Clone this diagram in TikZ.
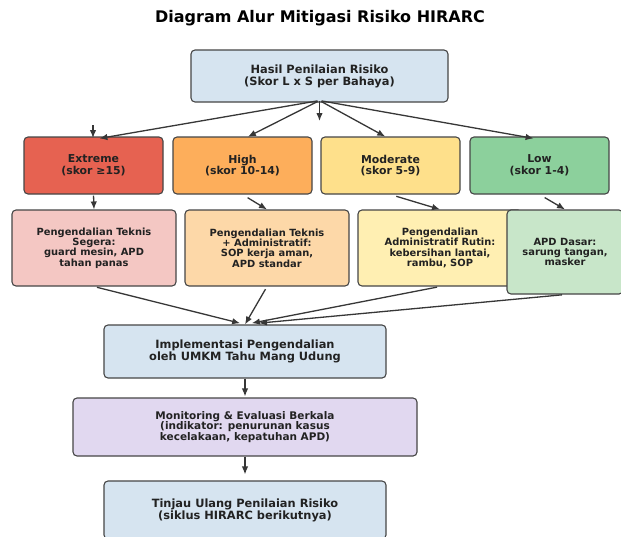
\documentclass[tikz,border=0pt]{standalone}
\usepackage{fontspec}
\setmainfont{DejaVu Sans}
\usetikzlibrary{arrows.meta}
\definecolor{cblue}{RGB}{214,228,240}
\definecolor{cext}{RGB}{230,98,81}
\definecolor{chigh}{RGB}{253,174,91}
\definecolor{cmod}{RGB}{254,224,139}
\definecolor{clow}{RGB}{140,208,156}
\definecolor{cone}{RGB}{244,199,195}
\definecolor{ctwo}{RGB}{253,216,168}
\definecolor{cthree}{RGB}{255,239,178}
\definecolor{cfour}{RGB}{200,230,201}
\definecolor{cmon}{RGB}{225,216,240}
\definecolor{cedge}{RGB}{70,70,70}
\definecolor{carrow}{RGB}{55,55,55}
\definecolor{ctext}{RGB}{34,34,34}
\tikzset{
  box/.style={draw=cedge, line width=1.1pt, rounded corners=4pt, align=center,
    inner sep=0pt, text=ctext, font=\bfseries\fontsize{11.4}{11.8}\selectfont},
  rowtwo/.style={box, minimum width=139pt, minimum height=57pt, font=\bfseries\fontsize{10.9}{11.7}\selectfont},
  rowthree/.style={box, minimum width=164pt, minimum height=76pt, font=\bfseries\fontsize{9.9}{10.3}\selectfont},
  arr/.style={draw=carrow, line width=1.3pt, -{Latex[length=8pt,width=6.5pt]}},
}
\begin{document}
\begin{tikzpicture}[x=1pt,y=-1pt]
\useasboundingbox (0,0) rectangle (621,536);
\fill[white] (0,0) rectangle (621,536);
\node[text=black, font=\bfseries\fontsize{16}{18}\selectfont] (title) at (320,18) {Diagram Alur Mitigasi Risiko HIRARC};

\node[box, fill=cblue, minimum width=257pt, minimum height=52pt] (top) at (319.5,76) {Hasil Penilaian Risiko\\(Skor L x S per Bahaya)};

\node[rowtwo, fill=cext] (ext) at (93.5,165.5) {Extreme\\(skor ≥15)};
\node[rowtwo, fill=chigh] (high) at (242.5,165.5) {High\\(skor 10-14)};
\node[rowtwo, fill=cmod] (mod) at (390.5,165.5) {Moderate\\(skor 5-9)};
\node[rowtwo, fill=clow] (low) at (539.5,165.5) {Low\\(skor 1-4)};

\node[rowthree, fill=cone] (c1) at (94,248) {Pengendalian Teknis\\Segera:\\guard mesin, APD\\tahan panas};
\node[rowthree, fill=ctwo] (c2) at (267,248) {Pengendalian Teknis\\+ Administratif:\\SOP kerja aman,\\APD standar};
\node[rowthree, fill=cthree] (c3) at (440,248) {Pengendalian\\Administratif Rutin:\\kebersihan lantai,\\rambu, SOP};
\node[rowthree, fill=cfour, minimum width=116pt, minimum height=84pt] (c4) at (565,252) {APD Dasar:\\sarung tangan,\\masker};

\node[box, fill=cblue, minimum width=282pt, minimum height=53pt] (impl) at (245,351.5) {Implementasi Pengendalian\\oleh UMKM Tahu Mang Udung};
\node[box, fill=cmon, minimum width=344pt, minimum height=58pt, font=\bfseries\fontsize{10.5}{10.7}\selectfont] (mon) at (245,427) {Monitoring \& Evaluasi Berkala\\(indikator: penurunan kasus\\kecelakaan, kepatuhan APD)};
\node[box, fill=cblue, minimum width=282pt, minimum height=58pt] (tin) at (245,510) {Tinjau Ulang Penilaian Risiko\\(siklus HIRARC berikutnya)};

% stray short arrows
\coordinate (sa1) at (319.5,101);
\coordinate (sb1) at (319.5,121);
\coordinate (sa2) at (93,125);
\coordinate (sb2) at (93,138);
\draw[arr] (sa1) -- (sb1);
\draw[arr] (sa2) -- (sb2);

% top to risk levels
\foreach \n in {ext,high,mod,low}{
  \draw[arr, shorten <=2pt, shorten >=6pt] ([yshift=2pt]top.south) -- ([yshift=-3pt]\n.north);
}
% risk levels to controls
\draw[arr, shorten <=1pt, shorten >=0pt] (ext.south) -- (c1.north);
\draw[arr, shorten <=6pt, shorten >=0pt] (high.south) -- (c2.north);
\draw[arr, shorten <=6pt, shorten >=0pt] (mod.south) -- (c3.north);
\draw[arr, shorten <=6pt, shorten >=0pt] (low.south) -- (c4.north);
% controls to implementation
\draw[arr, shorten <=3pt, shorten >=5pt] (c1.south) -- (impl.north);
\draw[arr, shorten <=3pt, shorten >=0pt] (c2.south) -- (impl.north);
\draw[arr, shorten <=3pt, shorten >=7pt] (c3.south) -- (impl.north);
\draw[arr, shorten <=3pt, shorten >=14pt] (c4.south) -- (impl.north);
\draw[arr, shorten >=1pt] (impl.south) -- (mon.north);
\draw[arr, shorten >=6pt] (mon.south) -- (tin.north);
\end{tikzpicture}
\end{document}
